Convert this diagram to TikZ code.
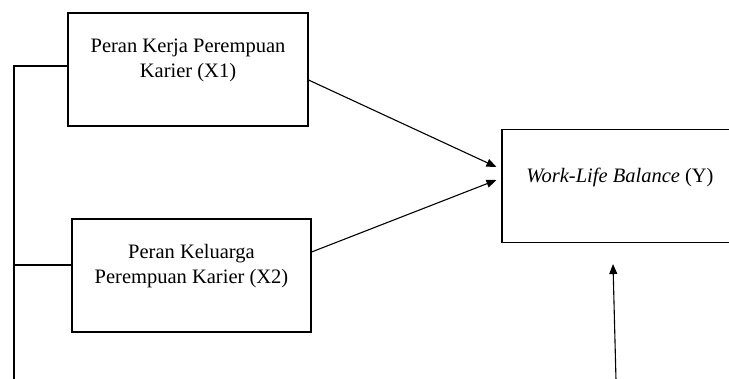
\documentclass[tikz,border=0pt]{standalone}
\usepackage{fontspec}
\setmainfont{Liberation Serif}
\usetikzlibrary{arrows.meta}
\begin{document}
\begin{tikzpicture}[x=1pt,y=-1pt,
  box/.style={draw,line width=1.1pt,inner sep=0pt,minimum height=113pt},
  txt/.style={font=\fontsize{20.5}{25}\selectfont,align=center,inner sep=0pt},
  link/.style={line width=1.1pt},
  arr/.style={line width=1.1pt,-{Triangle[length=10pt,width=8pt]}}]
\useasboundingbox (0,0) rectangle (729,378);
\clip (0,0) rectangle (729,378);
\node[box,minimum width=240pt] (b1) at (188,69.5) {};
\node[box,minimum width=239pt] (b2) at (191.5,275.5) {};
\node[box,minimum width=236pt] (by) at (620,186) {};
\node[txt] (t1) at (188,60.5) {Peran Kerja Perempuan\\Karier (X1)};
\node[txt] (t2) at (191.5,266.5) {Peran Keluarga\\Perempuan Karier (X2)};
\node[txt] (ty) at (620,177) {\textit{Work-Life Balance} (Y)};
\coordinate (l1) at (14,66);
\coordinate (l2) at (14,265);
\coordinate (lb) at (14,380);
\coordinate (vb) at (616,380);
\draw[link] ([yshift=3.5pt]b1.west) -- (l1) -- (lb);
\draw[link] ([yshift=10.5pt]b2.west) -- (l2);
\draw[arr] ([yshift=-10.5pt]b1.east) -- ([xshift=-5pt,yshift=19pt]by.west);
\draw[arr] ([yshift=23.5pt]b2.east) -- ([xshift=-5pt,yshift=6pt]by.west);
\draw[arr] (vb) -- ([xshift=-7pt,yshift=-21pt]by.south);
\end{tikzpicture}
\end{document}
